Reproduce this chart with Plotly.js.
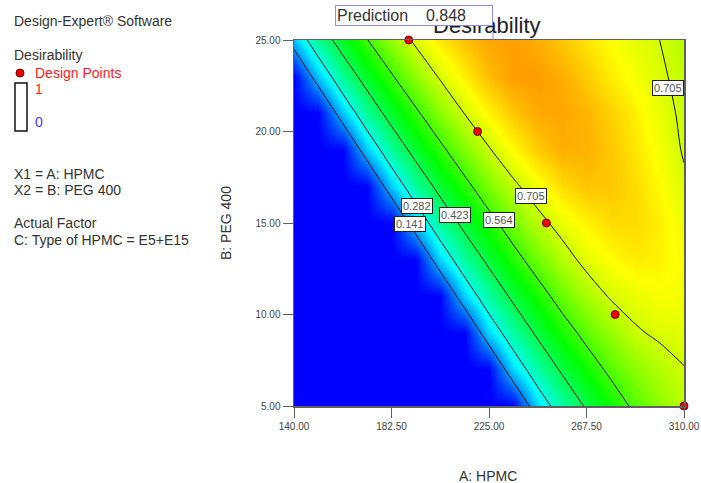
<!DOCTYPE html>
<html><head><meta charset="utf-8">
<script src="https://cdn.plot.ly/plotly-3.0.1.min.js"></script>
<style>html,body{margin:0;padding:0;background:#fff;} #chart{width:701px;height:483px;}</style>
</head><body><div id="chart"></div>
<script>
// A: HPMC grid values
const xHPMC = [140, 150.625, 161.25, 171.875, 182.5, 193.125, 203.75, 214.375, 225, 235.625, 246.25, 256.875, 267.5, 278.125, 288.75, 299.375, 310];
// B: PEG 400 grid values
const yPEG = [5, 7, 9, 11, 13, 15, 17, 19, 21, 23, 25];
// Desirability (rows = PEG 400, columns = HPMC)
const dY5  = [0,0,0,0,0,0,0,0,0,0,0.216,0.341,0.434,0.510,0.583,0.639,0.685];
const dY7  = [0,0,0,0,0,0,0,0,0,0.214,0.342,0.437,0.514,0.585,0.637,0.676,0.703];
const dY9  = [0,0,0,0,0,0,0,0,0.213,0.344,0.440,0.519,0.592,0.648,0.697,0.716,0.722];
const dY11 = [0,0,0,0,0,0,0,0.210,0.346,0.443,0.523,0.602,0.666,0.712,0.730,0.745,0.737];
const dY13 = [0,0,0,0,0,0,0.208,0.348,0.446,0.529,0.610,0.675,0.725,0.750,0.768,0.762,0.743];
const dY15 = [0,0,0,0,0,0.205,0.350,0.450,0.533,0.616,0.683,0.730,0.762,0.785,0.787,0.765,0.730];
const dY17 = [0,0,0,0,0.203,0.351,0.453,0.538,0.622,0.692,0.740,0.785,0.808,0.805,0.785,0.752,0.714];
const dY19 = [0,0,0,0.199,0.354,0.457,0.543,0.628,0.700,0.752,0.800,0.828,0.825,0.805,0.775,0.738,0.700];
const dY21 = [0,0,0.196,0.356,0.461,0.549,0.635,0.707,0.760,0.805,0.835,0.838,0.822,0.795,0.765,0.728,0.693];
const dY23 = [0,0.192,0.358,0.464,0.555,0.642,0.713,0.765,0.815,0.845,0.846,0.830,0.800,0.768,0.740,0.715,0.686];
const dY25 = [0.189,0.360,0.468,0.561,0.650,0.720,0.770,0.812,0.838,0.843,0.830,0.805,0.775,0.748,0.725,0.705,0.678];
const desirability = [dY5, dY7, dY9, dY11, dY13, dY15, dY17, dY19, dY21, dY23, dY25];
// contour levels
const contourLevels = [0.141, 0.282, 0.423, 0.564, 0.705];
// design points
const designHPMC = [190, 220, 250, 280, 310];
const designPEG = [25, 20, 15, 10, 5];
// axis ticks
const xTicks = [140, 182.5, 225, 267.5, 310];
const yTicks = [5, 10, 15, 20, 25];
const predictionValue = 0.848;

const L = 294, R = 684, T = 40, B = 406;
const pxX = p => (p - L) / (R - L);
const pxY = p => (B - p) / (B - T);
const FONT = 'Liberation Sans, Arial, sans-serif';

const colorscale = [[0, 'rgb(0,0,255)'], [0.25, 'rgb(0,255,255)'], [0.5, 'rgb(0,255,0)'], [0.75, 'rgb(255,255,0)'], [1, 'rgb(255,0,0)']];

const traces = [
  {type: 'heatmap', x: xHPMC, y: yPEG, z: desirability, zmin: 0, zmax: 1, colorscale: colorscale,
   zsmooth: 'best', showscale: false, hoverinfo: 'skip'},
  {type: 'contour', x: xHPMC, y: yPEG, z: desirability, showscale: false, hoverinfo: 'skip',
   contours: {start: contourLevels[0], end: contourLevels[contourLevels.length - 1],
              size: contourLevels[1] - contourLevels[0], coloring: 'none', showlabels: false},
   line: {color: '#111', width: 1, smoothing: 1}},
  {type: 'scatter', mode: 'markers', x: designHPMC, y: designPEG, cliponaxis: false, hoverinfo: 'skip',
   marker: {color: '#ee0000', size: 8, line: {color: '#700', width: 1}}}
];

function leftText(text, x, y, color) {
  return {xref: 'paper', yref: 'paper', x: pxX(x), y: pxY(y), xanchor: 'left', yanchor: 'middle',
          showarrow: false, text: text, font: {family: FONT, size: 14, color: color || '#333'}};
}
function cLabel(level, x, y, xanchor) {
  return {xref: 'x', yref: 'y', x: x, y: y, xanchor: xanchor || 'center', yanchor: 'middle', showarrow: false,
          text: level.toFixed(3), bgcolor: '#fff', bordercolor: '#222', borderwidth: 1, borderpad: 1,
          font: {family: FONT, size: 11, color: '#555'}};
}

const annotations = [
  {xref: 'paper', yref: 'paper', x: pxX(487), y: pxY(26), xanchor: 'center', yanchor: 'middle', showarrow: false,
   text: 'Desirability', font: {family: FONT, size: 22, color: '#222'}},
  {xref: 'paper', yref: 'paper', x: pxX(335), y: pxY(5), xanchor: 'left', yanchor: 'top', showarrow: false,
   text: 'Prediction\u00a0\u00a0\u00a0\u00a0' + predictionValue.toFixed(3), align: 'left', width: 154, height: 17,
   bgcolor: '#fff', bordercolor: '#8c8cee', borderwidth: 1, borderpad: 1,
   font: {family: FONT, size: 16, color: '#333'}},
  leftText('Design-Expert® Software', 12, 21),
  leftText('Desirability', 12, 55),
  leftText('Design Points', 33, 73, '#ff2020'),
  leftText('1', 33, 89, '#ff2020'),
  leftText('0', 33, 122, '#4040ff'),
  leftText('X1 = A: HPMC', 12, 174),
  leftText('X2 = B: PEG 400', 12, 190),
  leftText('Actual Factor', 12, 223),
  leftText('C: Type of HPMC = E5+E15', 12, 240),
  {xref: 'paper', yref: 'paper', x: pxX(488), y: pxY(476), xanchor: 'center', yanchor: 'middle', showarrow: false,
   text: 'A: HPMC', font: {family: FONT, size: 14, color: '#333'}},
  {xref: 'paper', yref: 'paper', x: pxX(226), y: pxY(223), xanchor: 'center', yanchor: 'middle', showarrow: false,
   textangle: -90, text: 'B: PEG 400', font: {family: FONT, size: 14, color: '#333'}},
  cLabel(contourLevels[0], 190.6, 14.95),
  cLabel(contourLevels[1], 193.8, 15.93),
  cLabel(contourLevels[2], 210.2, 15.44),
  cLabel(contourLevels[3], 229.4, 15.16),
  cLabel(contourLevels[4], 243.1, 16.45),
  cLabel(contourLevels[4], 310, 22.4, 'right')
];

const shapes = [
  {type: 'circle', xref: 'paper', yref: 'paper', x0: pxX(16), x1: pxX(24), y0: pxY(77), y1: pxY(69),
   fillcolor: '#ee0000', line: {color: '#700', width: 1}},
  {type: 'rect', xref: 'paper', yref: 'paper', x0: pxX(15), x1: pxX(27), y0: pxY(131), y1: pxY(83),
   fillcolor: '#fff', line: {color: '#111', width: 1.5}},
  {type: 'line', xref: 'paper', yref: 'paper', x0: pxX(493), x1: pxX(493), y0: pxY(24), y1: pxY(40),
   line: {color: '#8c8cee', width: 1}}
];

const axisCommon = {showline: true, linecolor: '#606060', linewidth: 1.5, mirror: true, ticks: 'outside',
  ticklen: 10, tickcolor: '#606060', tickwidth: 1, showgrid: false, zeroline: false,
  tickfont: {family: FONT, size: 10, color: '#444'}, tickmode: 'array'};

const layout = {
  width: 701, height: 483, margin: {l: L, r: 701 - R, t: T, b: 483 - B},
  paper_bgcolor: '#fff', plot_bgcolor: '#fff', showlegend: false,
  xaxis: Object.assign({}, axisCommon, {range: [140, 310], tickvals: xTicks, ticktext: xTicks.map(v => v.toFixed(2))}),
  yaxis: Object.assign({}, axisCommon, {range: [5, 25], tickvals: yTicks, ticktext: yTicks.map(v => v.toFixed(2))}),
  annotations: annotations, shapes: shapes
};

Plotly.newPlot('chart', traces, layout, {staticPlot: true, displayModeBar: false});
</script></body></html>
